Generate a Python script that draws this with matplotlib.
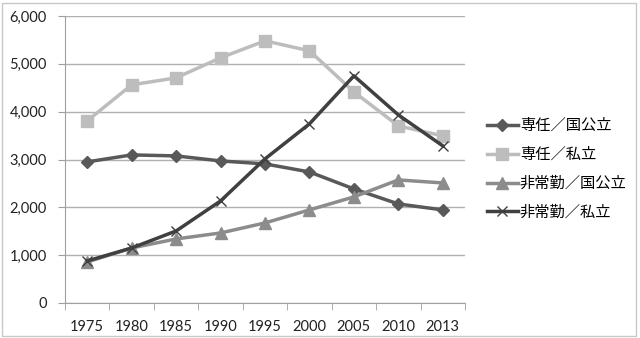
import matplotlib
matplotlib.use("Agg")
import matplotlib.pyplot as plt
import numpy as np
from matplotlib.patches import Rectangle

plt.rcParams["font.family"] = ["Noto Sans CJK JP", "DejaVu Sans"]

years = ["1975", "1980", "1985", "1990", "1995", "2000", "2005", "2010", "2013"]
fulltime_public = [2950, 3096, 3075, 2970, 2908, 2740, 2385, 2071, 1946]
fulltime_private = [3808, 4561, 4707, 5126, 5481, 5272, 4414, 3703, 3494]
parttime_public = [858, 1150, 1339, 1464, 1674, 1946, 2218, 2573, 2510]
parttime_private = [879, 1150, 1506, 2134, 3013, 3745, 4749, 3933, 3285]
labels = ["専任／国公立", "専任／私立", "非常勤／国公立", "非常勤／私立"]

fig = plt.figure(figsize=(6.4, 3.38), dpi=100, facecolor="white")
ax = fig.add_axes([65 / 640, 1 - 303 / 338, 400 / 640, 287 / 338])

x = np.arange(len(years))
ax.plot(x, fulltime_public, color="#595959", lw=2.5, marker="D", ms=6, label=labels[0])
ax.plot(x, fulltime_private, color="#bdbdbd", lw=2.5, marker="s", ms=8, label=labels[1])
ax.plot(x, parttime_public, color="#8c8c8c", lw=2.5, marker="^", ms=8, label=labels[2])
ax.plot(x, parttime_private, color="#404040", lw=2.5, marker="x", ms=7, mew=1.0, label=labels[3])

ax.set_xlim(-0.5, len(years) - 0.5)
ax.set_ylim(0, 6000)
ax.set_yticks(range(0, 6001, 1000))
ax.set_yticklabels([f"{v:,}" for v in range(0, 6001, 1000)])
ax.set_xticks(x)
ax.set_xticklabels(years)
ax.set_xticks(np.arange(-0.5, len(years)), minor=True)
ax.tick_params(axis="x", which="major", length=0, pad=12, labelsize=10.5, colors="#222222")
ax.tick_params(axis="x", which="minor", length=5, color="#a0a0a0")
ax.tick_params(axis="y", length=5, color="#a0a0a0", labelsize=10.5, colors="#222222", pad=8)
for lab in ax.get_xticklabels() + ax.get_yticklabels():
    lab.set_family(["Lato", "DejaVu Sans"])
ax.grid(axis="y", color="#b0b0b0", lw=1)
ax.set_axisbelow(True)
for s in ["top", "right"]:
    ax.spines[s].set_visible(False)
for s in ["left", "bottom"]:
    ax.spines[s].set_color("#a0a0a0")

ax.legend(loc="center left", bbox_to_anchor=(1.055, 0.467), frameon=False,
          borderpad=0, borderaxespad=0, fontsize=11, handlelength=2.0,
          handletextpad=0.15, labelspacing=0.78)

fig.patches.append(Rectangle((2 / 640, 2 / 338), 634 / 640, 333 / 338, transform=fig.transFigure,
                             fill=False, edgecolor="#c8c8c8", lw=1))
fig.savefig("out.png", dpi=100, facecolor="white")
